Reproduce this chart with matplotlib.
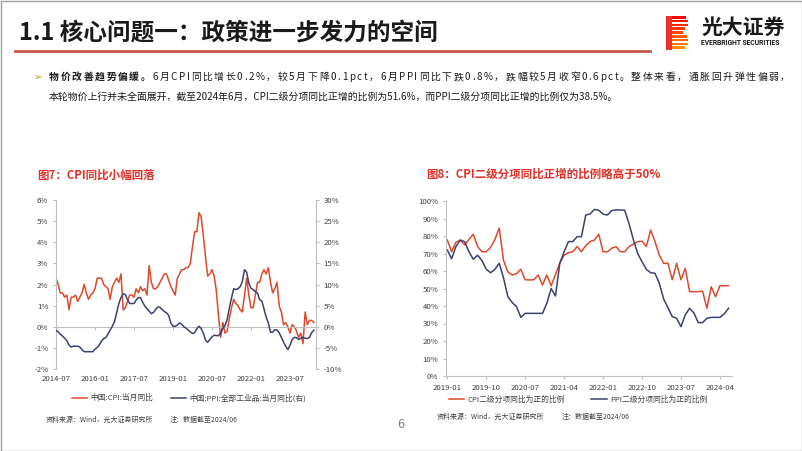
import numpy as np
import matplotlib.pyplot as plt
from matplotlib.patches import Rectangle
from matplotlib.lines import Line2D
from matplotlib.font_manager import FontProperties, findfont, get_font

plt.rcParams['font.family'] = ['Noto Sans CJK SC', 'DejaVu Sans']

# 图7: 月度数据 2014-07 ~ 2024-06 (%)
cpi_yoy = [2.3, 2.0, 1.6, 1.6, 1.4, 1.5,
           0.8, 1.4, 1.4, 1.5, 1.2, 1.4, 1.6, 2.0, 1.6, 1.3, 1.5, 1.6,
           1.8, 2.3, 2.3, 2.3, 2.0, 1.9, 1.8, 1.3, 1.9, 2.1, 2.3, 2.1,
           2.5, 0.8, 0.9, 1.2, 1.5, 1.5, 1.4, 1.8, 1.6, 1.9, 1.7, 1.8,
           1.5, 2.9, 2.1, 1.8, 1.8, 1.9, 2.1, 2.3, 2.5, 2.5, 2.2, 1.9,
           1.7, 1.5, 2.3, 2.5, 2.7, 2.7, 2.8, 2.8, 3.0, 3.8, 4.5, 4.5,
           5.4, 5.2, 4.3, 3.3, 2.4, 2.5, 2.7, 2.4, 1.7, 0.5, -0.5, 0.2,
           -0.3, -0.2, 0.4, 0.9, 1.3, 1.1, 1.0, 0.8, 0.7, 1.5, 2.3, 1.5,
           0.9, 0.9, 1.5, 2.1, 2.1, 2.5, 2.7, 2.5, 2.8, 2.1, 1.6, 1.8,
           2.1, 1.0, 0.7, 0.1, 0.2, 0.0, -0.3, 0.1, 0.0, -0.2, -0.5, -0.3,
           -0.8, 0.7, 0.1, 0.3, 0.3, 0.2]
ppi_yoy = [-0.9, -1.2, -1.8, -2.2, -2.7, -3.3,
           -4.3, -4.8, -4.6, -4.6, -4.6, -4.8, -5.4, -5.9, -5.9, -5.9, -5.9, -5.9,
           -5.3, -4.9, -4.3, -3.4, -2.8, -2.6, -1.7, -0.8, 0.1, 1.2, 3.3, 5.5,
           6.9, 7.8, 7.6, 6.4, 5.5, 5.5, 5.5, 6.3, 6.9, 6.9, 5.8, 4.9,
           4.3, 3.7, 3.1, 3.4, 4.1, 4.7, 4.6, 4.1, 3.6, 3.3, 2.7, 0.9,
           0.1, 0.1, 0.4, 0.9, 0.6, 0.0, -0.3, -0.8, -1.2, -1.6, -1.4, -0.5,
           0.1, -0.4, -1.5, -3.1, -3.7, -3.0, -2.4, -2.0, -2.1, -2.1, -1.5, -0.4,
           0.3, 1.7, 4.4, 6.8, 9.0, 8.8, 9.0, 9.5, 10.7, 13.5, 12.9, 10.3,
           9.1, 8.8, 8.3, 8.0, 6.4, 6.1, 4.2, 2.3, 0.9, -1.3, -1.3, -0.7,
           -0.8, -1.4, -2.5, -3.6, -4.6, -5.4, -4.4, -3.0, -2.5, -2.6, -3.0, -2.7,
           -2.5, -2.7, -2.8, -2.5, -1.4, -0.8]
fig7_ticks = [0, 18, 36, 54, 72, 90, 108]
fig7_labels = ['2014-07', '2016-01', '2017-07', '2019-01', '2020-07', '2022-01', '2023-07']

# 图8: 月度数据 2019-01 ~ 2024-06 (%)
cpi_share = [77.7, 71, 76.5, 77.5, 75, 78, 81, 74, 71, 71, 73.5, 78,
             84.5, 66, 59.5, 57.7, 58.5, 61, 55, 54.9, 55, 57.7, 52, 57.7,
             51.5, 58, 64.6, 69, 70.5, 71, 74, 71, 74.5, 76.8, 77.7, 81,
             71, 71, 73, 73.9, 71, 71, 73.9, 75.4, 76.8, 77, 74, 83.4,
             76.8, 69, 64.4, 64.4, 55, 64.4, 55, 61.5, 48.2, 48.2, 48.2, 48.5,
             38.7, 51, 45.3, 51.6, 51.6, 51.6]
ppi_share = [72, 67, 74, 77.7, 76.8, 71, 66.7, 69, 66, 61, 59, 61,
             64.4, 56, 45.3, 42, 39.6, 33.5, 35.8, 35.8, 35.8, 35.8, 35.8, 41.5,
             50, 45.7, 64.4, 71, 76.8, 76.8, 79.6, 79.6, 92, 92.6, 95.2, 94.7,
             92.5, 92, 94.5, 94.9, 94.9, 94.7, 87, 78, 70, 65.3, 61, 59,
             58.7, 53, 44, 39, 33.9, 33, 28.2, 34.9, 38.7, 36, 30.5, 30.5,
             33, 33.5, 33.5, 33.5, 35.5, 38.7]
fig8_ticks = [0, 9, 18, 27, 36, 45, 54, 63]
fig8_labels = ['2019-01', '2019-10', '2020-07', '2021-04', '2022-01', '2022-10', '2023-07', '2024-04']

body_bold = '物价改善趋势偏缓。'
body_line1 = '6月CPI同比增长0.2%，较5月下降0.1pct，6月PPI同比下跌0.8%，跌幅较5月收窄0.6pct。整体来看，通胀回升弹性偏弱，'
body_line2 = '本轮物价上行并未全面展开，截至2024年6月，CPI二级分项同比正增的比例为51.6%，而PPI二级分项同比正增的比例仅为38.5%。'

red = '#dc4a2c'
navy = '#3b4170'
axgrey = '#bfbfbf'
lab = '#404040'
title_red = '#e0322a'
body_fs = 7.1


def advances(s, weight, size):
    fp = FontProperties(family='Noto Sans CJK SC', weight=weight, size=size)
    font = get_font(findfont(fp))
    font.set_size(size, 100)
    return [font.load_char(ord(c)).linearHoriAdvance / 65536 for c in s]


fig = plt.figure(figsize=(8.02, 4.51), dpi=100)
bg = fig.add_axes([0, 0, 1, 1])
bg.axis('off')
bg.set_xlim(0, 802)
bg.set_ylim(451, 0)

# 页面框、标题、logo
bg.add_patch(Rectangle((0.5, 0.5), 801, 450, fill=False, ec='#a0a0a0', lw=1))
bg.text(19, 32, '1.1 核心问题一：政策进一步发力的空间', fontsize=17, fontweight='bold',
        color='#1a1a1a', va='center')
bg.plot([15, 650], [51, 51], color='#c55a44', lw=2)

stripe_w = [20, 22, 22, 19, 17, 21, 22, 22, 19]
cols = plt.cm.autumn(np.linspace(0.0, 0.55, len(stripe_w)))
for i, w in enumerate(stripe_w):
    bg.add_patch(Rectangle((666, 16 + i * 3.8), w, 2.6, color=cols[i], lw=0))
bg.add_patch(Rectangle((666, 16), 6, 34, color='#e8312a', lw=0))
bg.text(701, 27, '光大证券', fontsize=15, fontweight='bold', color='#1a1a1a', va='center')
bg.text(701, 43, 'EVERBRIGHT SECURITIES', fontsize=4.9, fontweight='bold',
        color='#1a1a1a', va='center', family='Roboto')

# 正文：第一行两端对齐
bg.text(34, 80, '➢', family='DejaVu Sans', fontsize=7.5, color='#e08a20', va='baseline')
chars = [(c, 'bold') for c in body_bold] + [(c, 'normal') for c in body_line1]
advs = advances(body_bold, 'bold', body_fs) + advances(body_line1, 'normal', body_fs)
x0, x1 = 49, 790
extra = (x1 - x0 - sum(advs)) / (len(chars) - 1)
xpos = x0
for (c, w), a in zip(chars, advs):
    bg.text(xpos, 80, c, fontsize=body_fs, fontweight=w, color='#1a1a1a', va='baseline', ha='left')
    xpos += a + extra
bg.text(49, 100, body_line2, fontsize=body_fs, color='#1a1a1a', va='baseline')

bg.text(37, 175, '图7：CPI同比小幅回落', color=title_red, fontsize=8.3, fontweight='bold', va='center')
bg.text(426, 174, '图8：CPI二级分项同比正增的比例略高于50%', color=title_red, fontsize=8.3,
        fontweight='bold', va='center')

# 图7
x7 = np.arange(len(cpi_yoy))
ax1 = fig.add_axes([56 / 802, 1 - 369 / 451, 260 / 802, 169 / 451])
ax1.plot(x7, cpi_yoy, color=red, lw=1.1)
ax1.set_xlim(0, 120)
ax1.set_ylim(-2, 6)
ax1.set_yticks(range(-2, 7))
ax1.set_yticklabels([f'{v}%' for v in range(-2, 7)])
ax1.set_xticks(fig7_ticks)
ax1.set_xticklabels(fig7_labels)
ax1.spines['bottom'].set_position(('data', 0))
for s in ['top', 'right']:
    ax1.spines[s].set_visible(False)
for s in ['left', 'bottom']:
    ax1.spines[s].set_color(axgrey)
ax1.tick_params(axis='y', length=2.5, color=axgrey, labelsize=5.6, labelcolor=lab, pad=3)
ax1.tick_params(axis='x', length=2.5, color=axgrey, labelsize=5.6, labelcolor=lab, pad=32)

ax2 = ax1.twinx()
ax2.plot(x7, ppi_yoy, color=navy, lw=1.1)
ax2.set_ylim(-10, 30)
ax2.set_yticks(range(-10, 31, 5))
ax2.set_yticklabels([f'{v}%' for v in range(-10, 31, 5)])
for s in ['top', 'left', 'bottom']:
    ax2.spines[s].set_visible(False)
ax2.spines['right'].set_color(axgrey)
ax2.tick_params(axis='y', length=2.5, color=axgrey, labelsize=5.6, labelcolor=lab, pad=3)

h7 = [Line2D([], [], color=red, lw=1.1), Line2D([], [], color=navy, lw=1.1)]
fig.legend(h7, ['中国:CPI:当月同比', '中国:PPI:全部工业品:当月同比(右)'], loc='center',
           bbox_to_anchor=(189 / 802, 1 - 398 / 451), ncol=2, frameon=False, fontsize=5.6,
           handlelength=2.0, handletextpad=0.4, columnspacing=2.2, labelcolor=lab)
bg.text(46, 420, '资料来源：Wind，光大证券研究所', fontsize=5, color=lab, va='center')
bg.text(170, 420, '注：数据截至2024/06', fontsize=5, color=lab, va='center')

# 图8
x8 = np.arange(len(cpi_share))
ax3 = fig.add_axes([446 / 802, 1 - 376 / 451, 286 / 802, 175 / 451])
ax3.plot(x8, cpi_share, color=red, lw=1.1)
ax3.plot(x8, ppi_share, color=navy, lw=1.1)
ax3.set_xlim(-0.3, 65.8)
ax3.set_ylim(0, 100)
ax3.set_yticks(range(0, 101, 10))
ax3.set_yticklabels([f'{v}%' for v in range(0, 101, 10)])
ax3.set_xticks(fig8_ticks)
ax3.set_xticklabels(fig8_labels)
for s in ['top', 'right']:
    ax3.spines[s].set_visible(False)
for s in ['left', 'bottom']:
    ax3.spines[s].set_color(axgrey)
ax3.tick_params(axis='both', length=2.5, color=axgrey, labelsize=5.6, labelcolor=lab, pad=3)

h8 = [Line2D([], [], color=red, lw=1.1), Line2D([], [], color=navy, lw=1.1)]
fig.legend(h8, ['CPI二级分项同比为正的比例', 'PPI二级分项同比为正的比例'], loc='center',
           bbox_to_anchor=(578 / 802, 1 - 400 / 451), ncol=2, frameon=False, fontsize=5.6,
           handlelength=2.0, handletextpad=0.4, columnspacing=3.4, labelcolor=lab)
bg.text(437, 417, '资料来源：Wind，光大证券研究所', fontsize=5, color=lab, va='center')
bg.text(562, 417, '注：数据截至2024/06', fontsize=5, color=lab, va='center')

bg.text(401, 424, '6', fontsize=9, color='#808080', ha='center', va='center')

fig.savefig('out.png', dpi=100)
